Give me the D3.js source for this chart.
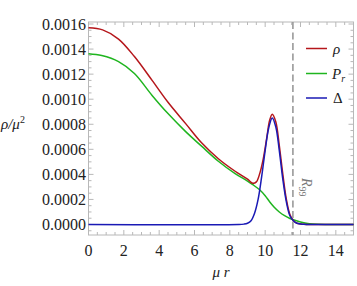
<!DOCTYPE html>
<html>
<head>
<meta charset="utf-8">
<script src="https://cdn.jsdelivr.net/npm/d3@7"></script>
<style>
body{margin:0;background:#fff;}
text{font-family:"Liberation Serif","DejaVu Serif",serif;}
</style>
</head>
<body>
<div id="chart"></div>
<script>
// values (mu r -> value)
var rhoR = [0,0.8,1.7,2.6,3.6,4.5,5.5,6.4,7.35,8.3,9.0,9.3,9.5,9.7,9.9,10.1,10.25,10.4,10.6,10.8,11,11.2,11.4,11.6,11.8,12.2,12.6,15];
var rhoV = [0.00157,0.001553,0.00148,0.00134,0.00115,0.000975,0.000805,0.000652,0.000525,0.000425,0.000362,0.000329,0.00034,0.00041,0.00053,0.0007,0.00083,0.00088,0.00082,0.00063,0.0004,0.0002,0.00008,0.00003,0.00001,0.000002,0,0];
var prR = [0,0.75,1.7,2.6,3.6,4.5,5.5,6.4,7.35,8.3,9.0,9.3,9.7,10,10.25,10.5,10.8,11.1,11.4,12,12.5,13,15];
var prV = [0.001363,0.001348,0.0013,0.001205,0.00103,0.000885,0.000741,0.000625,0.000505,0.000406,0.000347,0.000318,0.000275,0.00023,0.000182,0.00014,0.0001,0.00007,0.000048,0.00002,0.000006,0.000001,0];
var delR = [0,8.5,8.8,9,9.2,9.4,9.6,9.8,10,10.2,10.4,10.6,10.8,11,11.2,11.4,11.6,11.8,12.2,12.6,15];
var delV = [0,0,0.000003,0.00001,0.00003,0.00009,0.0002,0.00038,0.00059,0.00077,0.00085,0.00078,0.00059,0.00036,0.00018,0.00007,0.00003,0.00001,0.000002,0,0];

var seriesNames = ["rho","Pr","Delta"];
var seriesColors = ["#b5161b","#1fb51f","#1a1ab5"];
var xTicks = [0,2,4,6,8,10,12,14];
var yTicks = [0,0.0002,0.0004,0.0006,0.0008,0.001,0.0012,0.0014,0.0016];
var r99 = 11.57;

var W = 357, H = 286;
var svg = d3.select("#chart").append("svg").attr("width", W).attr("height", H);

var x = d3.scaleLinear().domain([0, 15]).range([88.5, 353.5]);
var y = d3.scaleLinear().domain([-0.0000838, 0.001616]).range([235, 22]);

// frame
svg.append("rect").attr("x", 88.5).attr("y", 22).attr("width", 265).attr("height", 213)
  .attr("fill", "none").attr("stroke", "#b8b8b8").attr("stroke-width", 1);

// ticks (inward, all four sides)
var xMinor = d3.range(0, 15.01, 0.5);
var yMinor = d3.range(-0.00005, 0.00161, 0.00005);
function isMajorX(v){ return Math.abs(v/2 - Math.round(v/2)) < 1e-6; }
function isMajorY(v){ return Math.abs(v/0.0002 - Math.round(v/0.0002)) < 1e-6; }
var tk = svg.append("g").attr("stroke", "#b8b8b8").attr("stroke-width", 1);
xMinor.forEach(function(v){
  var L = isMajorX(v) ? 5 : 3;
  tk.append("line").attr("x1", x(v)).attr("x2", x(v)).attr("y1", 235).attr("y2", 235 - L);
  tk.append("line").attr("x1", x(v)).attr("x2", x(v)).attr("y1", 22).attr("y2", 22 + L);
});
yMinor.forEach(function(v){
  if (y(v) > 235 || y(v) < 22) return;
  var L = isMajorY(v) ? 5 : 3;
  tk.append("line").attr("y1", y(v)).attr("y2", y(v)).attr("x1", 88.5).attr("x2", 88.5 + L);
  tk.append("line").attr("y1", y(v)).attr("y2", y(v)).attr("x1", 353.5).attr("x2", 353.5 - L);
});

// tick labels
svg.append("g").selectAll("text").data(xTicks).enter().append("text")
  .attr("x", function(d){ return x(d); }).attr("y", 256)
  .attr("text-anchor", "middle").attr("font-size", 16).attr("fill", "#222")
  .text(function(d){ return d; });
svg.append("g").selectAll("text").data(yTicks).enter().append("text")
  .attr("x", 86).attr("y", function(d){ return y(d) + 5.5; })
  .attr("text-anchor", "end").attr("font-size", 16).attr("fill", "#222")
  .text(function(d){ return d3.format(".4f")(d); });

// axis labels
var yl = svg.append("text").attr("x", 1).attr("y", 129).attr("font-size", 15).attr("fill", "#222");
yl.append("tspan").attr("font-style", "italic").text("ρ/μ");
yl.append("tspan").attr("font-size", 10).attr("dy", -6).text("2");
var xl = svg.append("text").attr("x", 221).attr("y", 277).attr("text-anchor", "middle")
  .attr("font-size", 15).attr("font-style", "italic").attr("fill", "#222").text("μ r");

// R99 dashed line
svg.append("line").attr("x1", x(r99)).attr("x2", x(r99)).attr("y1", 22).attr("y2", 235)
  .attr("stroke", "#999").attr("stroke-width", 1.6).attr("stroke-dasharray", "7,3.5");
var rl = svg.append("text").attr("transform", "translate(" + (x(r99) + 9) + ",178) rotate(90)")
  .attr("font-size", 14).attr("fill", "#777");
rl.append("tspan").attr("font-style", "italic").text("R");
rl.append("tspan").attr("font-size", 10).attr("dy", 3).text("99");

// curves
var line = d3.line().curve(d3.curveCatmullRom.alpha(0.5))
  .x(function(d){ return x(d[0]); }).y(function(d){ return y(d[1]); });
var series = [d3.zip(rhoR, rhoV), d3.zip(prR, prV), d3.zip(delR, delV)];
var drawOrder = [1, 0, 2];
drawOrder.forEach(function(i){
  svg.append("path").datum(series[i]).attr("d", line)
    .attr("fill", "none").attr("stroke", seriesColors[i]).attr("stroke-width", 1.5);
});

// legend
var legY = [48.5, 73.5, 98];
var lg = svg.append("g");
seriesNames.forEach(function(n, i){
  lg.append("line").attr("x1", 306).attr("x2", 327).attr("y1", legY[i]).attr("y2", legY[i])
    .attr("stroke", seriesColors[i]).attr("stroke-width", 1.5);
});
lg.append("text").attr("x", 333).attr("y", legY[0] + 5).attr("font-size", 15)
  .attr("font-style", "italic").attr("fill", "#222").text("ρ");
var pt = lg.append("text").attr("x", 332).attr("y", legY[1] + 5).attr("font-size", 15).attr("fill", "#222");
pt.append("tspan").attr("font-style", "italic").text("P");
pt.append("tspan").attr("font-style", "italic").attr("font-size", 10).attr("dy", 3).text("r");
lg.append("text").attr("x", 333).attr("y", legY[2] + 5).attr("font-size", 15)
  .attr("fill", "#222").text("Δ");
</script>
</body>
</html>
